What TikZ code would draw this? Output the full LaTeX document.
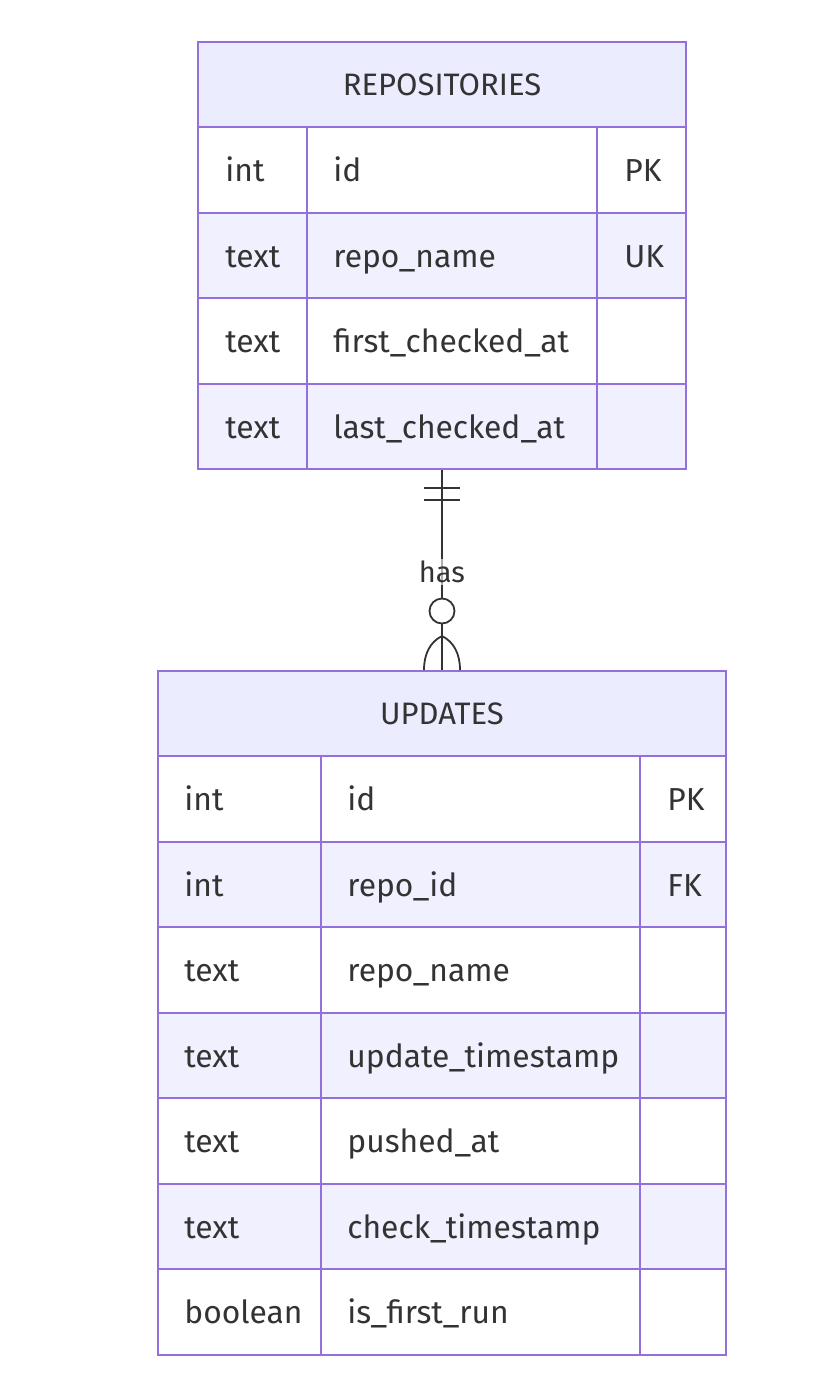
\documentclass[tikz,border=0pt]{standalone}
\usepackage{fontspec}
\setmainfont{Fira Sans}
\usetikzlibrary{fit,calc}
\definecolor{bord}{HTML}{9370DB}
\definecolor{hdr}{HTML}{ECECFF}
\definecolor{alt}{HTML}{F0F0FF}
\definecolor{ink}{HTML}{333333}
\begin{document}
\begin{tikzpicture}[x=0.5pt,y=-0.5pt,
  cell/.style={anchor=base west, font=\fontsize{15.9}{18}\selectfont, text=ink, inner sep=0pt},
  title/.style={anchor=base, font=\fontsize{15.5}{18}\selectfont, text=ink, inner sep=0pt},
  grid/.style={draw=bord, line width=1pt},
  conn/.style={draw=ink, line width=0.9pt},
  lbl/.style={font=\fontsize{14.5}{18}\selectfont, text=ink, fill=white, fill opacity=0.6, text opacity=1, inner sep=1pt}]
\useasboundingbox (0,0) rectangle (826,1394);
% ---------- REPOSITORIES ----------
\fill[hdr] (198,42) rectangle (686,127);
\node[title] (rtitle) at (442,95.5) {REPOSITORIES};
\foreach \ty/\nm/\ky [count=\i] in {int/id/PK, text/repo\_name/UK, text/first\_checked\_at/, text/last\_checked\_at/}{
  \pgfmathsetmacro\rt{127+85.5*(\i-1)}
  \ifodd\i\else\fill[alt] (198,\rt) rectangle (686,\rt+85.5);\fi
  \node[cell] (r\i-a) at (225,\rt+54.5) {\ty};
  \node[cell] (r\i-b) at (333,\rt+54.5) {\nm};
  \node[cell] (r\i-c) at (624,\rt+54.5) {\ky};
}
\foreach \y in {127,212.5,298,383.5}{\draw[grid] (198,\y) -- (686,\y);}
\draw[grid] (307,127) -- (307,469);
\draw[grid] (597,127) -- (597,469);
\node[grid, fit={(198,42) (686,469)}, inner sep=0pt] (repos) {};
% ---------- UPDATES ----------
\fill[hdr] (158,671) rectangle (726,756);
\node[title] (utitle) at (442,724.5) {UPDATES};
\foreach \ty/\nm/\ky [count=\i] in {int/id/PK, int/repo\_id/FK, text/repo\_name/, text/update\_timestamp/, text/pushed\_at/, text/check\_timestamp/, boolean/is\_first\_run/}{
  \pgfmathsetmacro\rt{756+85.57*(\i-1)}
  \ifodd\i\else\fill[alt] (158,\rt) rectangle (726,\rt+85.57);\fi
  \node[cell] (u\i-a) at (184,\rt+54.5) {\ty};
  \node[cell] (u\i-b) at (347,\rt+54.5) {\nm};
  \node[cell] (u\i-c) at (667,\rt+54.5) {\ky};
}
\foreach \i in {0,...,6}{\draw[grid] (158,756+85.57*\i) -- (726,756+85.57*\i);}
\draw[grid] (321,756) -- (321,1355);
\draw[grid] (640,756) -- (640,1355);
\node[grid, fit={(158,671) (726,1355)}, inner sep=0pt] (updates) {};
% ---------- relationship ----------
\draw[conn] (repos.south) -- (updates.north);
\draw[conn] ($(repos.south)+(-18,18)$) -- ++(36,0);
\draw[conn] ($(repos.south)+(-18,30)$) -- ++(36,0);
\draw[conn, fill=white] ($(updates.north)+(0,-59)$) circle[radius=6.25pt];
\draw[conn] ($(updates.north)+(0,-34)$) .. controls ($(updates.north)+(-12,-28)$) and ($(updates.north)+(-18,-16)$) .. ($(updates.north)+(-18,0)$);
\draw[conn] ($(updates.north)+(0,-34)$) .. controls ($(updates.north)+(12,-28)$) and ($(updates.north)+(18,-16)$) .. ($(updates.north)+(18,0)$);
\node[lbl] (has) at (442,572) {has};
\end{tikzpicture}
\end{document}
